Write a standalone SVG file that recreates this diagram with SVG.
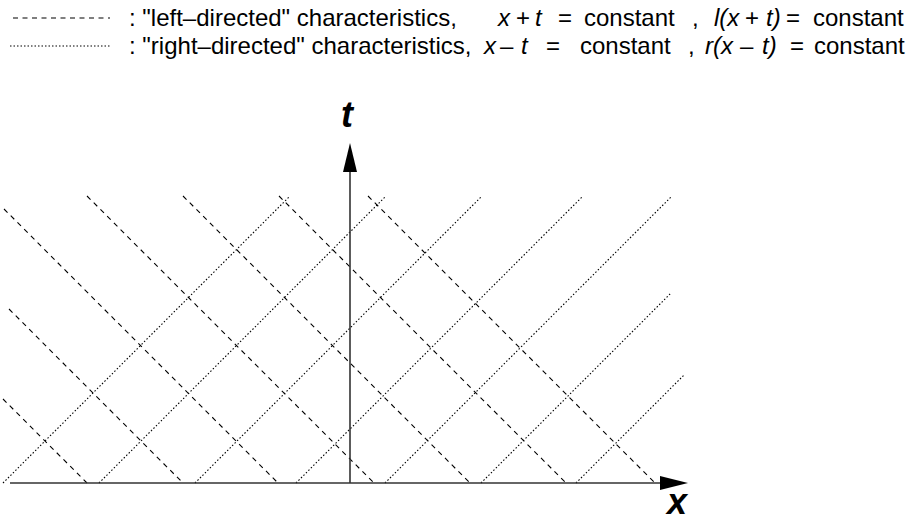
<svg xmlns="http://www.w3.org/2000/svg" width="907" height="522" viewBox="0 0 907 522">
<defs>
<style>
.lt{font-family:"Liberation Sans",Arial,sans-serif;font-size:24px;fill:#000}
.it{font-style:italic}
.ax{font-family:"Liberation Sans",Arial,sans-serif;font-size:36px;font-weight:bold;font-style:italic;fill:#000}
.dash{stroke:#000;stroke-width:1.1;stroke-dasharray:5 4.5;fill:none}
.dot{stroke:#000;stroke-width:1.1;stroke-dasharray:1.5 2;fill:none}
.axis{stroke:#333;stroke-width:1.6;fill:none}
</style>
</defs>
<rect width="907" height="522" fill="#fff"/>
<g id="legend">
<line class="dash" x1="13" y1="18" x2="110" y2="18"/>
<text class="lt" x="129" y="26">: "left–directed" characteristics,</text>
<text class="lt it" x="498" y="26">x</text>
<text class="lt" x="516" y="26">+</text>
<text class="lt it" x="535" y="26">t</text>
<text class="lt" x="558" y="26">=</text>
<text class="lt" x="584" y="26">constant</text>
<text class="lt" x="692" y="26">,</text>
<text class="lt it" x="714" y="26">l(x</text>
<text class="lt" x="745" y="26">+</text>
<text class="lt it" x="766" y="26">t)</text>
<text class="lt" x="786" y="26">=</text>
<text class="lt" x="813" y="26">constant</text>
<line class="dot" x1="10" y1="46" x2="110" y2="46"/>
<text class="lt" x="129" y="54">: "right–directed" characteristics,</text>
<text class="lt it" x="484" y="54">x</text>
<text class="lt" x="500" y="54">–</text>
<text class="lt it" x="521" y="54">t</text>
<text class="lt" x="546" y="54">=</text>
<text class="lt" x="580" y="54">constant</text>
<text class="lt" x="688" y="54">,</text>
<text class="lt it" x="705" y="54">r(x</text>
<text class="lt" x="740" y="54">–</text>
<text class="lt it" x="762" y="54">t)</text>
<text class="lt" x="790" y="54">=</text>
<text class="lt" x="814" y="54">constant</text>
</g>
<g id="connectors">
<g id="left-directed">
<line class="dash" x1="3" y1="399" x2="87" y2="483"/>
<line class="dash" x1="9" y1="309" x2="183" y2="483"/>
<line class="dash" x1="4" y1="209" x2="278" y2="483"/>
<line class="dash" x1="87" y1="196" x2="374" y2="483"/>
<line class="dash" x1="183" y1="196" x2="470" y2="483"/>
<line class="dash" x1="279" y1="196" x2="566" y2="483"/>
<line class="dash" x1="368" y1="196" x2="655" y2="483"/>
</g>
<g id="right-directed">
<line class="dot" x1="3" y1="483" x2="290" y2="196"/>
<line class="dot" x1="99" y1="483" x2="386" y2="196"/>
<line class="dot" x1="195" y1="483" x2="482" y2="196"/>
<line class="dot" x1="296" y1="483" x2="583" y2="196"/>
<line class="dot" x1="385" y1="483" x2="672" y2="196"/>
<line class="dot" x1="481" y1="483" x2="671" y2="293"/>
<line class="dot" x1="576" y1="483" x2="684" y2="375"/>
</g>
</g>
<g id="x-axis">
<line class="axis" x1="10" y1="483" x2="662" y2="483"/>
<polygon points="660,476 688,483 660,490" fill="#000"/>
<text class="ax" x="667" y="514">x</text>
</g>
<g id="t-axis">
<line class="axis" x1="350" y1="483" x2="350" y2="170"/>
<polygon points="343,172 350,143 357,172" fill="#000"/>
<text class="ax" x="341" y="127">t</text>
</g>
</svg>
